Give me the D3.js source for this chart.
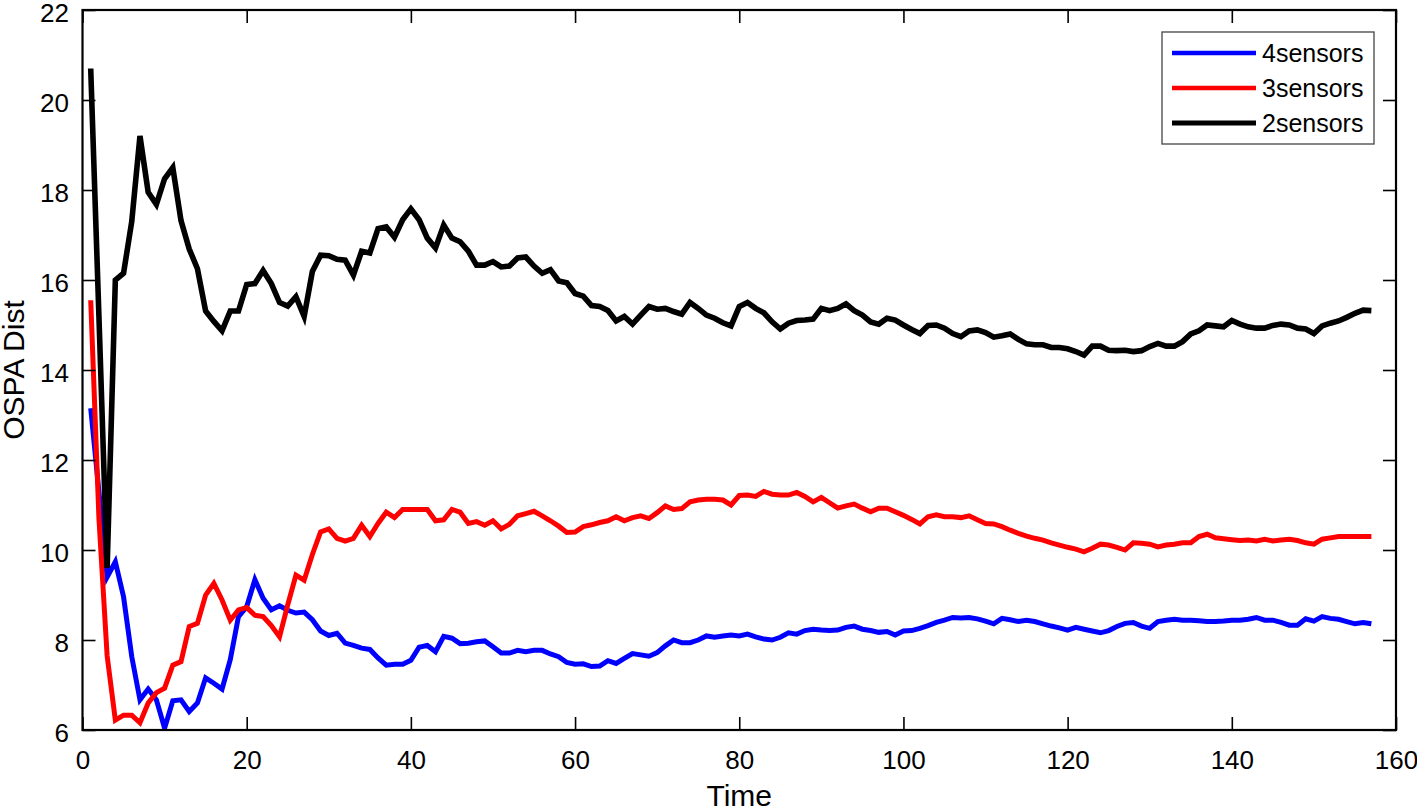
<!DOCTYPE html>
<html>
<head>
<meta charset="utf-8">
<script src="https://cdn.jsdelivr.net/npm/d3@7"></script>
<style>
  body { margin: 0; background: #fff; }
  text { font-family: "Liberation Sans", Arial, sans-serif; fill: #000; }
</style>
</head>
<body>
<div id="chart"></div>
<script>
// time steps and OSPA distance for each sensor setup
var steps = d3.range(1, 158);

var sensors4 = [13.15, 11.3, 9.4, 9.74, 8.96, 7.63, 6.67, 6.91, 6.67, 6.04,
  6.65, 6.67, 6.41, 6.6, 7.16, 7.04, 6.91, 7.56, 8.52, 8.74,
  9.34, 8.93, 8.67, 8.76, 8.66, 8.6, 8.62, 8.45, 8.2, 8.1,
  8.15, 7.93, 7.88, 7.82, 7.79, 7.6, 7.44, 7.46, 7.46, 7.55,
  7.84, 7.88, 7.74, 8.08, 8.04, 7.92, 7.93, 7.96, 7.98, 7.85,
  7.71, 7.71, 7.77, 7.74, 7.77, 7.77, 7.69, 7.63, 7.5, 7.46,
  7.47, 7.41, 7.42, 7.54, 7.48, 7.59, 7.7, 7.67, 7.64, 7.72,
  7.87, 8.0, 7.94, 7.94, 8.0, 8.09, 8.06, 8.09, 8.11, 8.09,
  8.13, 8.07, 8.02, 8.0, 8.06, 8.16, 8.13, 8.21, 8.24, 8.22,
  8.21, 8.22, 8.28, 8.31, 8.24, 8.21, 8.17, 8.19, 8.11, 8.2,
  8.21, 8.26, 8.32, 8.39, 8.44, 8.5, 8.49, 8.5, 8.47, 8.42,
  8.36, 8.48, 8.45, 8.41, 8.44, 8.41, 8.36, 8.31, 8.27, 8.22,
  8.28, 8.24, 8.2, 8.16, 8.21, 8.3, 8.37, 8.39, 8.31, 8.26,
  8.41, 8.44, 8.46, 8.44, 8.44, 8.43, 8.41, 8.41, 8.42, 8.44,
  8.44, 8.46, 8.5, 8.44, 8.44, 8.39, 8.33, 8.33, 8.47, 8.42,
  8.52, 8.48, 8.46, 8.41, 8.36, 8.39, 8.36];

var sensors3 = [15.55, 10.71, 7.65, 6.22, 6.33, 6.33, 6.16, 6.6, 6.83, 6.93,
  7.44, 7.52, 8.3, 8.37, 9.0, 9.26, 8.89, 8.44, 8.67, 8.72,
  8.55, 8.52, 8.32, 8.07, 8.78, 9.44, 9.33, 9.9, 10.4, 10.47,
  10.26, 10.2, 10.26, 10.55, 10.3, 10.59, 10.84, 10.72, 10.9, 10.9,
  10.9, 10.9, 10.65, 10.67, 10.9, 10.84, 10.59, 10.63, 10.55, 10.65,
  10.47, 10.57, 10.76, 10.81, 10.86, 10.76, 10.65, 10.53, 10.39, 10.4,
  10.52, 10.56, 10.61, 10.65, 10.74, 10.65, 10.72, 10.76, 10.7, 10.83,
  10.98, 10.9, 10.92, 11.07, 11.11, 11.13, 11.13, 11.11, 11.0, 11.21,
  11.22, 11.19, 11.3, 11.24, 11.22, 11.22, 11.28, 11.19, 11.07, 11.17,
  11.05, 10.93, 10.98, 11.02, 10.93, 10.85, 10.93, 10.93, 10.85, 10.77,
  10.68, 10.58, 10.74, 10.78, 10.74, 10.74, 10.72, 10.76, 10.67, 10.59,
  10.58, 10.52, 10.44, 10.37, 10.31, 10.26, 10.22, 10.16, 10.11, 10.06,
  10.02, 9.96, 10.04, 10.13, 10.11, 10.06, 10.0, 10.16, 10.15, 10.13,
  10.07, 10.11, 10.13, 10.16, 10.16, 10.3, 10.35, 10.27, 10.25, 10.23,
  10.21, 10.22, 10.2, 10.24, 10.2, 10.22, 10.24, 10.21, 10.16, 10.13,
  10.24, 10.27, 10.3, 10.3, 10.3, 10.3, 10.3];

var sensors2 = [20.7, 15.2, 9.6, 16.0, 16.15, 17.3, 19.2, 17.95, 17.68, 18.25,
  18.5, 17.32, 16.69, 16.25, 15.31, 15.08, 14.87, 15.31, 15.31, 15.9,
  15.92, 16.21, 15.92, 15.5, 15.42, 15.63, 15.19, 16.19, 16.55, 16.54,
  16.46, 16.44, 16.11, 16.64, 16.6, 17.14, 17.18, 16.95, 17.34, 17.58,
  17.34, 16.93, 16.71, 17.22, 16.93, 16.85, 16.64, 16.33, 16.33, 16.41,
  16.29, 16.31, 16.49, 16.51, 16.31, 16.15, 16.23, 15.98, 15.94, 15.7,
  15.64, 15.43, 15.41, 15.32, 15.09, 15.19, 15.02, 15.22, 15.41, 15.35,
  15.37, 15.3, 15.24, 15.5, 15.37, 15.22, 15.15, 15.05, 14.98, 15.41,
  15.5, 15.37, 15.27, 15.07, 14.91, 15.04, 15.1, 15.11, 15.13, 15.37,
  15.32, 15.37, 15.47, 15.32, 15.22, 15.07, 15.02, 15.15, 15.11, 15.0,
  14.9, 14.81, 14.99, 15.0, 14.93, 14.81, 14.74, 14.87, 14.89, 14.83,
  14.73, 14.76, 14.8, 14.68, 14.58, 14.56, 14.56, 14.5, 14.5, 14.47,
  14.41, 14.33, 14.53, 14.53, 14.44, 14.43, 14.44, 14.41, 14.43, 14.52,
  14.59, 14.53, 14.53, 14.63, 14.8, 14.87, 15.0, 14.98, 14.96, 15.1,
  15.02, 14.96, 14.93, 14.93, 14.99, 15.02, 15.0, 14.93, 14.91, 14.81,
  14.98, 15.04, 15.09, 15.17, 15.26, 15.33, 15.32];

var seriesNames = ["4sensors", "3sensors", "2sensors"];
var seriesColors = ["#0000ff", "#ff0000", "#000000"];
var xTicks = [0, 20, 40, 60, 80, 100, 120, 140, 160];
var yTicks = [6, 8, 10, 12, 14, 16, 18, 20, 22];

// set the dimensions and margins of the graph
var margin = {top: 10, right: 21, bottom: 81, left: 82.5},
    width = 1417 - margin.left - margin.right,
    height = 811 - margin.top - margin.bottom;

var svg = d3.select("#chart")
  .append("svg")
    .attr("width", 1417)
    .attr("height", 811)
  .append("g")
    .attr("transform", "translate(" + margin.left + "," + margin.top + ")");

var x = d3.scaleLinear().domain([0, 160]).range([0, width]);
var y = d3.scaleLinear().domain([6, 22]).range([height, 0]);

// the lines, clipped to the axes box like matlab does
svg.append("clipPath").attr("id", "clip")
  .append("rect").attr("width", width).attr("height", height);

var allSeries = [sensors4, sensors3, sensors2];
var widths = [5, 5, 5.6];
var line = d3.line()
  .x(function(d, i) { return x(steps[i]); })
  .y(function(d) { return y(d); });

allSeries.forEach(function(values, k) {
  svg.append("path")
    .datum(values)
    .attr("clip-path", "url(#clip)")
    .attr("fill", "none")
    .attr("stroke", seriesColors[k])
    .attr("stroke-width", widths[k])
    .attr("stroke-linejoin", "miter")
    .attr("d", line);
});

// axes: ticks pointing inward on all four sides
function styleAxis(g) {
  g.select(".domain").remove();
  g.selectAll(".tick line").attr("stroke", "#000").attr("stroke-width", 1.6);
  g.selectAll("text").style("font-size", "26px").attr("fill", "#000");
}

svg.append("g")
  .attr("transform", "translate(0," + height + ")")
  .call(d3.axisBottom(x).tickValues(xTicks).tickSize(-13).tickFormat(d3.format("d")))
  .call(styleAxis)
  .selectAll("text").attr("y", 39).attr("dy", null);

svg.append("g")
  .call(d3.axisTop(x).tickValues(xTicks).tickSize(-13).tickFormat(""))
  .call(styleAxis);

svg.append("g")
  .call(d3.axisLeft(y).tickValues(yTicks).tickSize(-13).tickFormat(d3.format("d")))
  .call(styleAxis)
  .selectAll("text").attr("x", -13.5).attr("dy", "0.44em");

svg.append("g")
  .attr("transform", "translate(" + width + ",0)")
  .call(d3.axisRight(y).tickValues(yTicks).tickSize(-13).tickFormat(""))
  .call(styleAxis);

// box
svg.append("rect")
  .attr("width", width)
  .attr("height", height)
  .attr("fill", "none")
  .attr("stroke", "#000")
  .attr("stroke-width", 2.2);

// axis titles
svg.append("text")
  .attr("x", width / 2)
  .attr("y", height + 76)
  .attr("text-anchor", "middle")
  .style("font-size", "30px")
  .text("Time");

svg.append("text")
  .attr("transform", "translate(" + (-59) + "," + (height / 2) + ") rotate(-90)")
  .attr("text-anchor", "middle")
  .style("font-size", "30px")
  .text("OSPA Dist");

// legend
var legend = svg.append("g").attr("transform", "translate(" + (1162 - margin.left) + "," + (32 - margin.top) + ")");
legend.append("rect")
  .attr("width", 212)
  .attr("height", 112)
  .attr("fill", "#fff")
  .attr("stroke", "#444")
  .attr("stroke-width", 1.3);

seriesNames.forEach(function(name, k) {
  var cy = 21 + k * 35;
  legend.append("line")
    .attr("x1", 10).attr("x2", 94)
    .attr("y1", cy).attr("y2", cy)
    .attr("stroke", seriesColors[k])
    .attr("stroke-width", k == 2 ? 5 : 4.5);
  legend.append("text")
    .attr("x", 100)
    .attr("y", cy + 9)
    .style("font-size", "25px")
    .text(name);
});
</script>
</body>
</html>
